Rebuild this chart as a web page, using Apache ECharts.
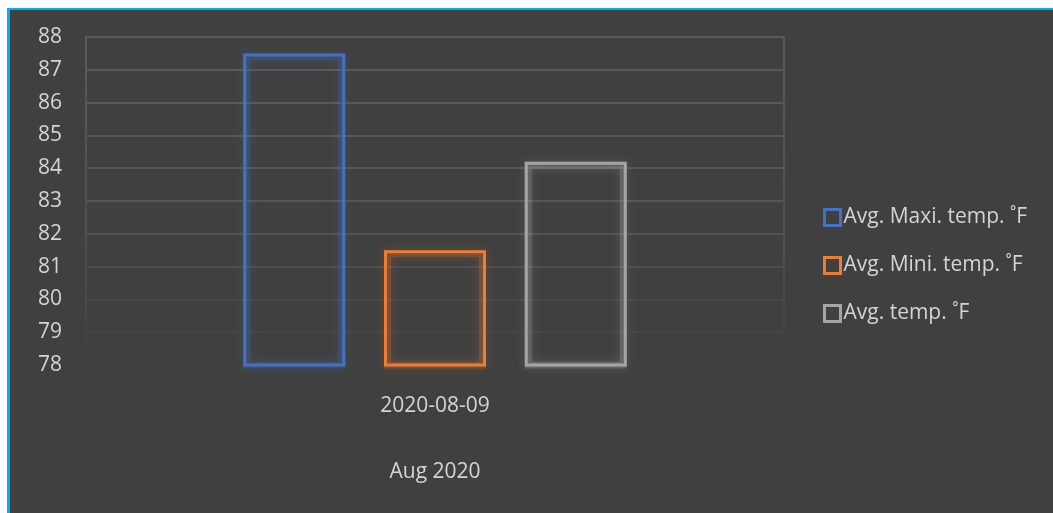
<!DOCTYPE html>
<html>
<head>
<meta charset="utf-8">
<script src="https://cdn.jsdelivr.net/npm/echarts@6/dist/echarts.min.js"></script>
<style>
  html, body { margin: 0; padding: 0; background: #ffffff; width: 1053px; height: 513px; overflow: hidden; }
  #frame { position: absolute; left: 7px; top: 8px; right: 0; bottom: 0;
           border-top: 2px solid #00b0f0; border-left: 3px solid #00b0f0; background: #404040; }
  #chart { position: absolute; left: 0; top: 0; width: 1053px; height: 513px; }
</style>
</head>
<body>
<div id="frame"></div>
<div id="chart"></div>
<script>
// Category levels: day and month
const categories = ['2020-08-09'];
const groupLabels = ['Aug 2020'];

// Series names and values (°F)
const seriesNames = ['Avg. Maxi. temp. ˚F', 'Avg. Mini. temp. ˚F', 'Avg. temp. ˚F'];
const maxTemp = [87.5];
const minTemp = [81.5];
const avgTemp = [84.2];

const seriesColors = ['#4472c4', '#ed7d31', '#a5a5a5'];
const haloColors = ['rgba(68,114,196,0.22)', 'rgba(237,125,49,0.22)', 'rgba(200,200,200,0.2)'];
const shadowColors = ['rgba(68,114,196,0.9)', 'rgba(237,125,49,0.9)', 'rgba(200,200,200,0.8)'];
const seriesValues = [maxTemp, minTemp, avgTemp];

// Grid lines fade out toward the bottom (index 0 = 78)
const splitColors = ['#404040', '#444444', '#484848', '#4d4d4d', '#525252',
                     '#555555', '#575757', '#585858', '#595959', '#595959', '#5a5a5a'];

const fadeLine = new echarts.graphic.LinearGradient(0, 0, 0, 1, [
  { offset: 0, color: '#5a5a5a' },
  { offset: 0.6, color: '#505050' },
  { offset: 1, color: '#404040' }
]);

const font = '"Open Sans", "Noto Sans", sans-serif';
const textColor = '#d4d4d4';
const fontSize = 21;

const barLayout = { barWidth: 102, barGap: '38%' };

// Outlined bars on the visible category axis
const outlineSeries = seriesNames.map((n, i) => ({
  name: n,
  type: 'bar',
  xAxisIndex: 0,
  yAxisIndex: 0,
  z: 3,
  data: seriesValues[i],
  ...barLayout,
  itemStyle: {
    color: 'none',
    borderColor: seriesColors[i],
    borderWidth: 3
  }
}));

// Soft glow around each outline, laid out on a hidden twin axis
const glowSeries = seriesNames.map((n, i) => ({
  name: n,
  type: 'bar',
  xAxisIndex: 2,
  yAxisIndex: 0,
  z: 2,
  silent: true,
  data: seriesValues[i],
  ...barLayout,
  itemStyle: {
    color: 'none',
    borderColor: haloColors[i],
    borderWidth: 7,
    shadowBlur: 10,
    shadowColor: shadowColors[i]
  }
}));

const chart = echarts.init(document.getElementById('chart'), null, { renderer: 'canvas' });

chart.setOption({
  backgroundColor: 'transparent',
  animation: false,
  grid: { left: 86, right: 269, top: 37, bottom: 148, containLabel: false },
  legend: {
    orient: 'vertical',
    left: 818,
    top: 202,
    itemWidth: 16,
    itemHeight: 16,
    itemGap: 27,
    icon: 'rect',
    textStyle: { color: textColor, fontSize: fontSize, fontFamily: font, padding: [0, 0, 0, -2] },
    data: seriesNames.map((n, i) => ({
      name: n,
      itemStyle: { color: 'transparent', borderColor: seriesColors[i], borderWidth: 3, shadowBlur: 0 }
    }))
  },
  xAxis: [
    {
      type: 'category',
      data: categories,
      axisLine: { show: false },
      axisTick: { show: false },
      axisLabel: { color: textColor, fontSize: fontSize, fontFamily: font, margin: 31 }
    },
    {
      type: 'category',
      data: groupLabels,
      position: 'bottom',
      offset: 66,
      axisLine: { show: false },
      axisTick: { show: false },
      axisLabel: { color: textColor, fontSize: fontSize, fontFamily: font, margin: 31 }
    },
    {
      type: 'category',
      data: categories,
      show: false
    }
  ],
  yAxis: [
    {
      type: 'value',
      min: 78,
      max: 88,
      interval: 1,
      axisLine: { show: true, lineStyle: { color: fadeLine, width: 2 } },
      axisTick: { show: false },
      axisLabel: { color: textColor, fontSize: fontSize, fontFamily: font, margin: 24 },
      splitLine: { show: true, lineStyle: { color: splitColors, width: 2 } }
    },
    {
      type: 'value',
      min: 78,
      max: 88,
      interval: 1,
      position: 'right',
      axisLine: { show: true, lineStyle: { color: fadeLine, width: 2 } },
      axisTick: { show: false },
      axisLabel: { show: false },
      splitLine: { show: false }
    }
  ],
  series: glowSeries.concat(outlineSeries)
});
</script>
</body>
</html>
